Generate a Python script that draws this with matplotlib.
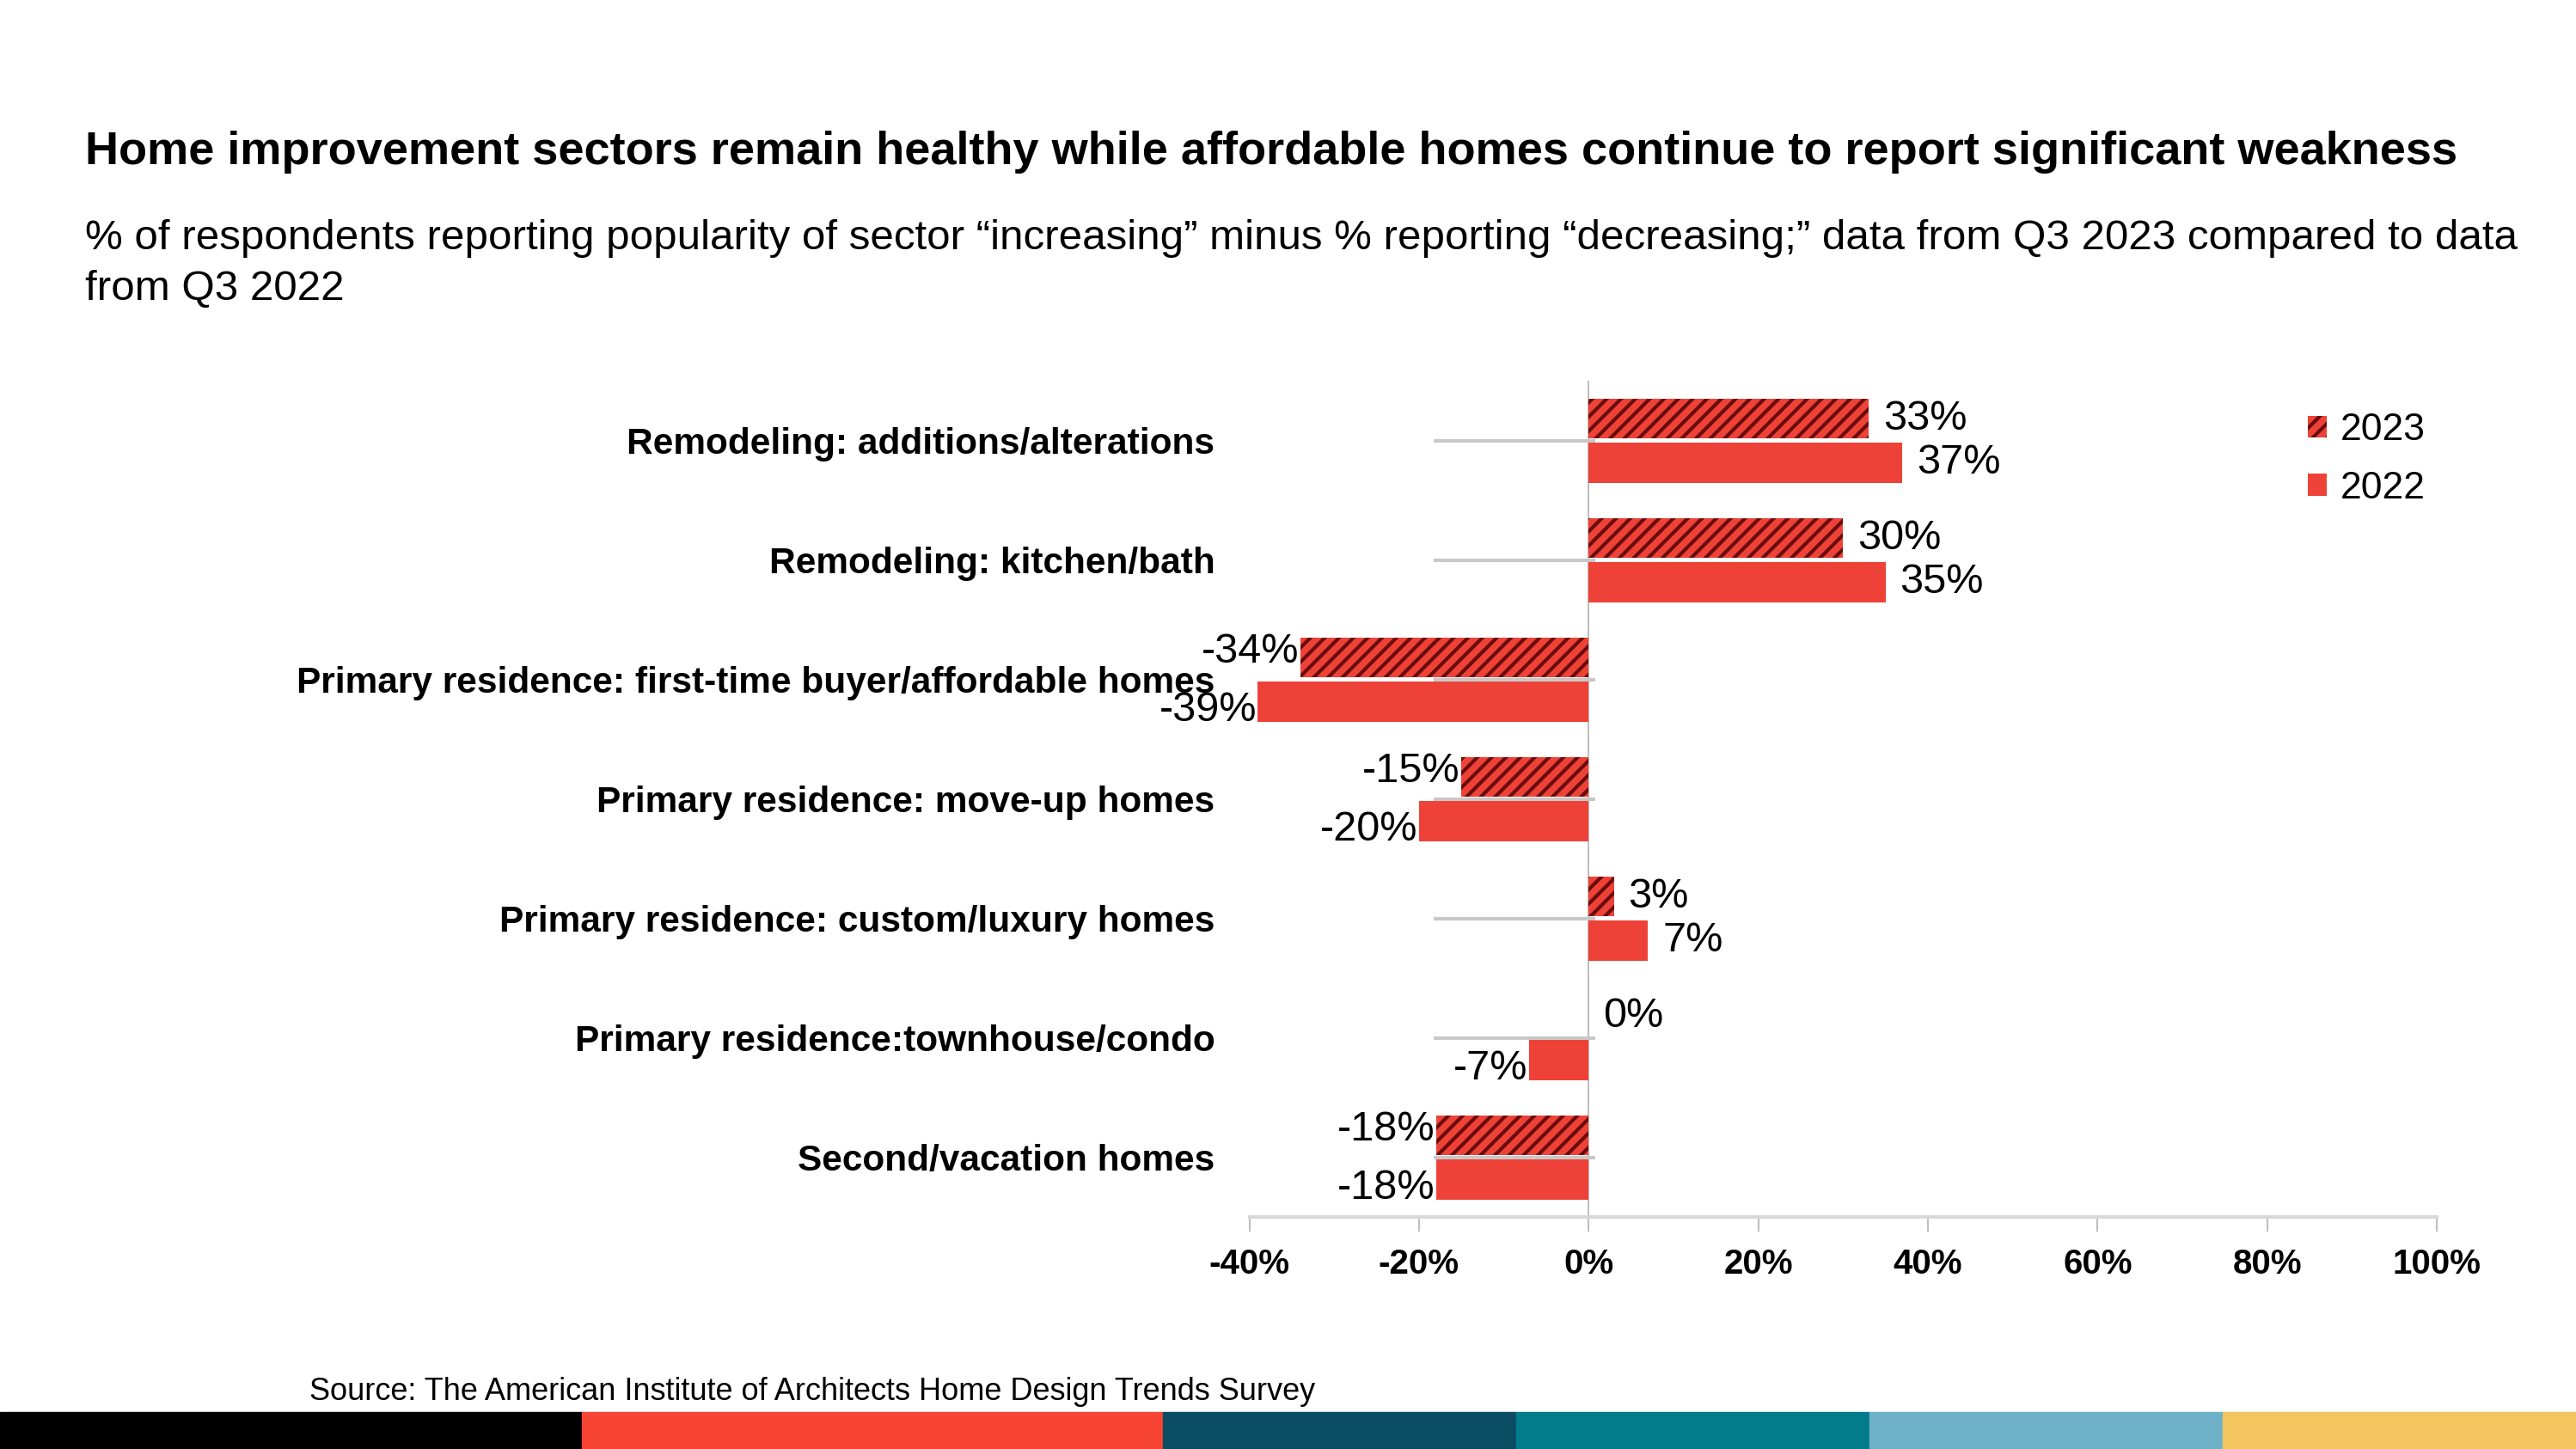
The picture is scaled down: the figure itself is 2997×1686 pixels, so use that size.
import matplotlib
matplotlib.use("Agg")
import matplotlib.pyplot as plt
import matplotlib.patches as mpatches
import numpy as np

# données
categories = [
    "Remodeling: additions/alterations",
    "Remodeling: kitchen/bath",
    "Primary residence: first-time buyer/affordable homes",
    "Primary residence: move-up homes",
    "Primary residence: custom/luxury homes",
    "Primary residence:townhouse/condo",
    "Second/vacation homes",
]
v2023 = [33, 30, -34, -15, 3, 0, -18]
v2022 = [37, 35, -39, -20, 7, -7, -18]
xticks = [-40, -20, 0, 20, 40, 60, 80, 100]
bande_couleurs = ["#000000", "#F84433", "#0B4D63", "#027B8A", "#6FB0C9", "#F3C55F"]
bande_largeurs = [0.2258, 0.2258, 0.1371, 0.1371, 0.1371, 0.1371]

plt.rcParams["font.family"] = ["Liberation Sans", "DejaVu Sans"]
plt.rcParams["hatch.linewidth"] = 3.0

rouge = "#EE4238"
fonce = "#6A0C0C"

fig = plt.figure(figsize=(29.97, 16.86), dpi=100)
ax = fig.add_axes([0.485, 0.160, 0.461, 0.577])

y = np.arange(len(categories))
h = 0.335
b23 = ax.barh(y - 0.185, v2023, height=h, color=rouge, edgecolor=fonce, linewidth=0,
              hatch="//", zorder=3, label="2023")
b22 = ax.barh(y + 0.185, v2022, height=h, color=rouge, linewidth=0, zorder=3, label="2022")

# petits traits gris au niveau de chaque catégorie
ax.hlines(y, -18.3, 0.8, color="#C8C8C8", linewidth=3, zorder=2)
ax.axvline(0, color="#BFBFBF", linewidth=1.5, zorder=1)

# étiquettes de valeurs (les négatives un peu décalées vers le haut / le bas)
for bars, vals, dy in ((b23, v2023, 5), (b22, v2022, -7)):
    for rect, v in zip(bars, vals):
        yc = rect.get_y() + rect.get_height() / 2
        if v >= 0:
            ax.annotate(f"{v}%", (v, yc), xytext=(12, 0), textcoords="offset points",
                        ha="left", va="center", fontsize=35)
        else:
            ax.annotate(f"{v}%", (v, yc), xytext=(-1, dy), textcoords="offset points",
                        ha="right", va="center", fontsize=35)

ax.set_xlim(-40, 100)
ax.set_ylim(6.5, -0.5)
ax.set_xticks(xticks)
ax.set_xticklabels([f"{t}%" for t in xticks], fontsize=29, fontweight="bold")
ax.tick_params(axis="x", length=12, width=1.5, color="#BFBFBF", pad=14)
ax.set_yticks(y)
ax.set_yticklabels(categories, fontsize=30.5, fontweight="bold")
ax.tick_params(axis="y", length=0, pad=29)

for s in ("top", "right", "left"):
    ax.spines[s].set_visible(False)
ax.spines["bottom"].set_color("#D9D9D9")
ax.spines["bottom"].set_linewidth(3)

leg = fig.legend(handles=[b23, b22], loc="upper left", bbox_to_anchor=(0.8885, 0.7285),
                 frameon=False, fontsize=32, handlelength=0.5, handleheight=0.5,
                 handletextpad=0.35, labelspacing=0.6, borderpad=0)

fig.text(0.033, 0.887, "Home improvement sectors remain healthy while affordable homes continue to report significant weakness",
         fontsize=39, fontweight="bold", va="baseline")
fig.text(0.033, 0.828, "% of respondents reporting popularity of sector \u201cincreasing\u201d minus % reporting \u201cdecreasing;\u201d data from Q3 2023 compared to data",
         fontsize=35.5, va="baseline")
fig.text(0.033, 0.793, "from Q3 2022", fontsize=35.5, va="baseline")
fig.text(0.120, 0.034, "Source: The American Institute of Architects Home Design Trends Survey",
         fontsize=26, va="baseline")

# bande de couleurs en bas
x0 = 0
for c, w in zip(bande_couleurs, bande_largeurs):
    fig.patches.append(mpatches.Rectangle((x0, 0), w, 0.0255, transform=fig.transFigure,
                                          color=c, zorder=5))
    x0 += w

fig.savefig("out.png", dpi=100)
